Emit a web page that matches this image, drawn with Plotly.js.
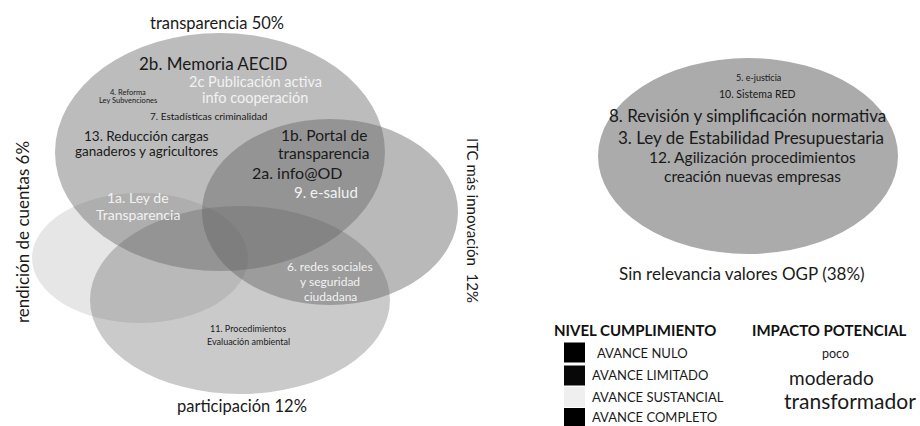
<!DOCTYPE html>
<html>
<head>
<meta charset="utf-8">
<script src="https://cdn.plot.ly/plotly-3.0.1.min.js"></script>
<style>html,body{margin:0;padding:0;background:#fff;}#chart{width:920px;height:426px;}</style>
</head>
<body>
<div id="chart"></div>
<script>
// ---- DATA ----
var setNames = ['transparencia', 'ITC más innovación', 'rendición de cuentas', 'participación'];
var setShares = [50, 12, 6, 12];
var otherName = 'Sin relevancia valores OGP';
var otherShare = 38;

var vennItems = [
  '2b. Memoria AECID',
  '2c Publicación activa<br>info cooperación',
  '4. Reforma<br>Ley Subvenciones',
  '7. Estadísticas criminalidad',
  '13. Reducción cargas<br>ganaderos y agricultores',
  '1b. Portal de<br>transparencia',
  '2a. info@OD',
  '9. e-salud',
  '1a. Ley de<br>Transparencia',
  '6. redes sociales<br>y seguridad<br>ciudadana',
  '11. Procedimientos<br>Evaluación ambiental'
];
var otherItems = [
  '5. e-justicia',
  '10. Sistema RED',
  '8. Revisión y simplificación normativa',
  '3. Ley de Estabilidad Presupuestaria',
  '12. Agilización procedimientos<br>creación nuevas empresas'
];
var levelTitle = 'NIVEL CUMPLIMIENTO';
var levels = ['AVANCE NULO', 'AVANCE LIMITADO', 'AVANCE SUSTANCIAL', 'AVANCE COMPLETO'];
var impactTitle = 'IMPACTO POTENCIAL';
var impacts = ['poco', 'moderado', 'transformador'];

// ---- LAYOUT / STYLE (pixel space of the 920x426 canvas) ----
var FONT = 'Lato, "Open Sans", sans-serif';
var ellipses = [ // drawn in this order: rendición, participación, transparencia, ITC
  {cx: 140, cy: 258, rx: 108, ry: 65, a: 0.16},
  {cx: 240, cy: 300, rx: 150, ry: 94, a: 0.34},
  {cx: 220, cy: 152, rx: 165, ry: 119, a: 0.43},
  {cx: 330, cy: 212, rx: 128, ry: 93, a: 0.45}
];
var otherEllipse = {cx: 748, cy: 156, rx: 150, ry: 98};

var setLabelPos = [
  {x: 217, y: 23, angle: 0, s: 16.5, sep: ' '},
  {x: 473, y: 220, angle: 90, s: 15, sep: '  '},
  {x: 22, y: 232, angle: -90, s: 17, sep: ' '},
  {x: 242, y: 406, angle: 0, s: 16.5, sep: ' '}
];
var LIGHT = '#f2f2f2', DARK = '#1a1a1a';
var itemStyle = [
  {x: 213, y: [63], s: 17, c: DARK},
  {x: 255, y: [81, 97], s: 14.5, c: LIGHT},
  {x: 128, y: [92, 100], s: 7.5, c: DARK},
  {x: 208, y: [116], s: 10, c: DARK},
  {x: 146, y: [136, 151], s: 13.5, c: DARK},
  {x: 324, y: [135, 153], s: 15.5, c: DARK},
  {x: 297, y: [172], s: 16, c: DARK},
  {x: 326, y: [192], s: 15, c: LIGHT},
  {x: 138, y: [197, 214], s: 14, c: LIGHT},
  {x: 330, y: [266, 281, 296], s: 12, c: LIGHT},
  {x: 248, y: [328, 341], s: 9, c: DARK}
];
var otherStyle = [
  {x: 758, y: [77], s: 9},
  {x: 757, y: [94], s: 10.5},
  {x: 747, y: [115], s: 17},
  {x: 751, y: [137], s: 17},
  {x: 752, y: [157, 176], s: 15.5}
];

// ---- BUILD ----
var shapes = [];
ellipses.forEach(function (e) {
  shapes.push({type: 'circle', xref: 'x', yref: 'y',
    x0: e.cx - e.rx, x1: e.cx + e.rx, y0: e.cy - e.ry, y1: e.cy + e.ry,
    fillcolor: 'rgba(100,100,100,' + e.a + ')', line: {width: 0}, layer: 'below'});
});
shapes.push({type: 'circle', xref: 'x', yref: 'y',
  x0: otherEllipse.cx - otherEllipse.rx, x1: otherEllipse.cx + otherEllipse.rx,
  y0: otherEllipse.cy - otherEllipse.ry, y1: otherEllipse.cy + otherEllipse.ry,
  fillcolor: '#ababab', line: {width: 0}, layer: 'below'});

var levelColors = ['#000000', '#080808', '#efefef', '#000000'];
var squareY = [352.5, 375.5, 397, 418];
levels.forEach(function (l, i) {
  shapes.push({type: 'rect', xref: 'x', yref: 'y', x0: 564, x1: 585,
    y0: squareY[i] - 10, y1: squareY[i] + 10, fillcolor: levelColors[i], line: {width: 0}});
});

var ann = [];
function A(text, x, y, size, color, opts) {
  var o = {text: text, x: x, y: y, xref: 'x', yref: 'y', showarrow: false,
    font: {family: FONT, size: size, color: color || DARK}, xanchor: 'center', yanchor: 'middle'};
  for (var k in (opts || {})) o[k] = opts[k];
  ann.push(o);
}
function lines(text, st, color) {
  text.split('<br>').forEach(function (ln, j) {
    A(ln, st.x, st.y[j], st.s, color || st.c);
  });
}
setNames.forEach(function (n, i) {
  var p = setLabelPos[i];
  A(n + p.sep + setShares[i] + '%', p.x, p.y, p.s, DARK, {textangle: p.angle});
});
vennItems.forEach(function (t, i) { lines(t, itemStyle[i]); });
otherItems.forEach(function (t, i) { lines(t, otherStyle[i], DARK); });
A(otherName + ' (' + otherShare + '%)', 742, 273, 17, DARK);

A('<b>' + levelTitle + '</b>', 635, 330, 15, '#111');
A('<b>' + impactTitle + '</b>', 829, 330, 15, '#111');
var levelX = [595, 590, 590, 590];
var levelY = [353, 375, 397, 417];
levels.forEach(function (l, i) {
  A(l, levelX[i], levelY[i], 13, DARK, {xanchor: 'left'});
});
var impactSizes = [12.5, 19, 21];
var impactX = [835, 831, 850];
var impactY = [353, 377, 400];
impacts.forEach(function (t, i) {
  A(t, impactX[i], impactY[i], impactSizes[i], DARK);
});

var data = [{type: 'scatter', x: [0], y: [0], mode: 'markers', marker: {opacity: 0}, hoverinfo: 'skip', showlegend: false}];
var layout = {
  width: 920, height: 426,
  margin: {l: 0, r: 0, t: 0, b: 0},
  paper_bgcolor: '#ffffff', plot_bgcolor: '#ffffff',
  xaxis: {range: [0, 920], visible: false, fixedrange: true},
  yaxis: {range: [426, 0], visible: false, fixedrange: true},
  shapes: shapes,
  annotations: ann,
  showlegend: false
};
Plotly.newPlot('chart', data, layout, {displayModeBar: false, staticPlot: true});
</script>
</body>
</html>
